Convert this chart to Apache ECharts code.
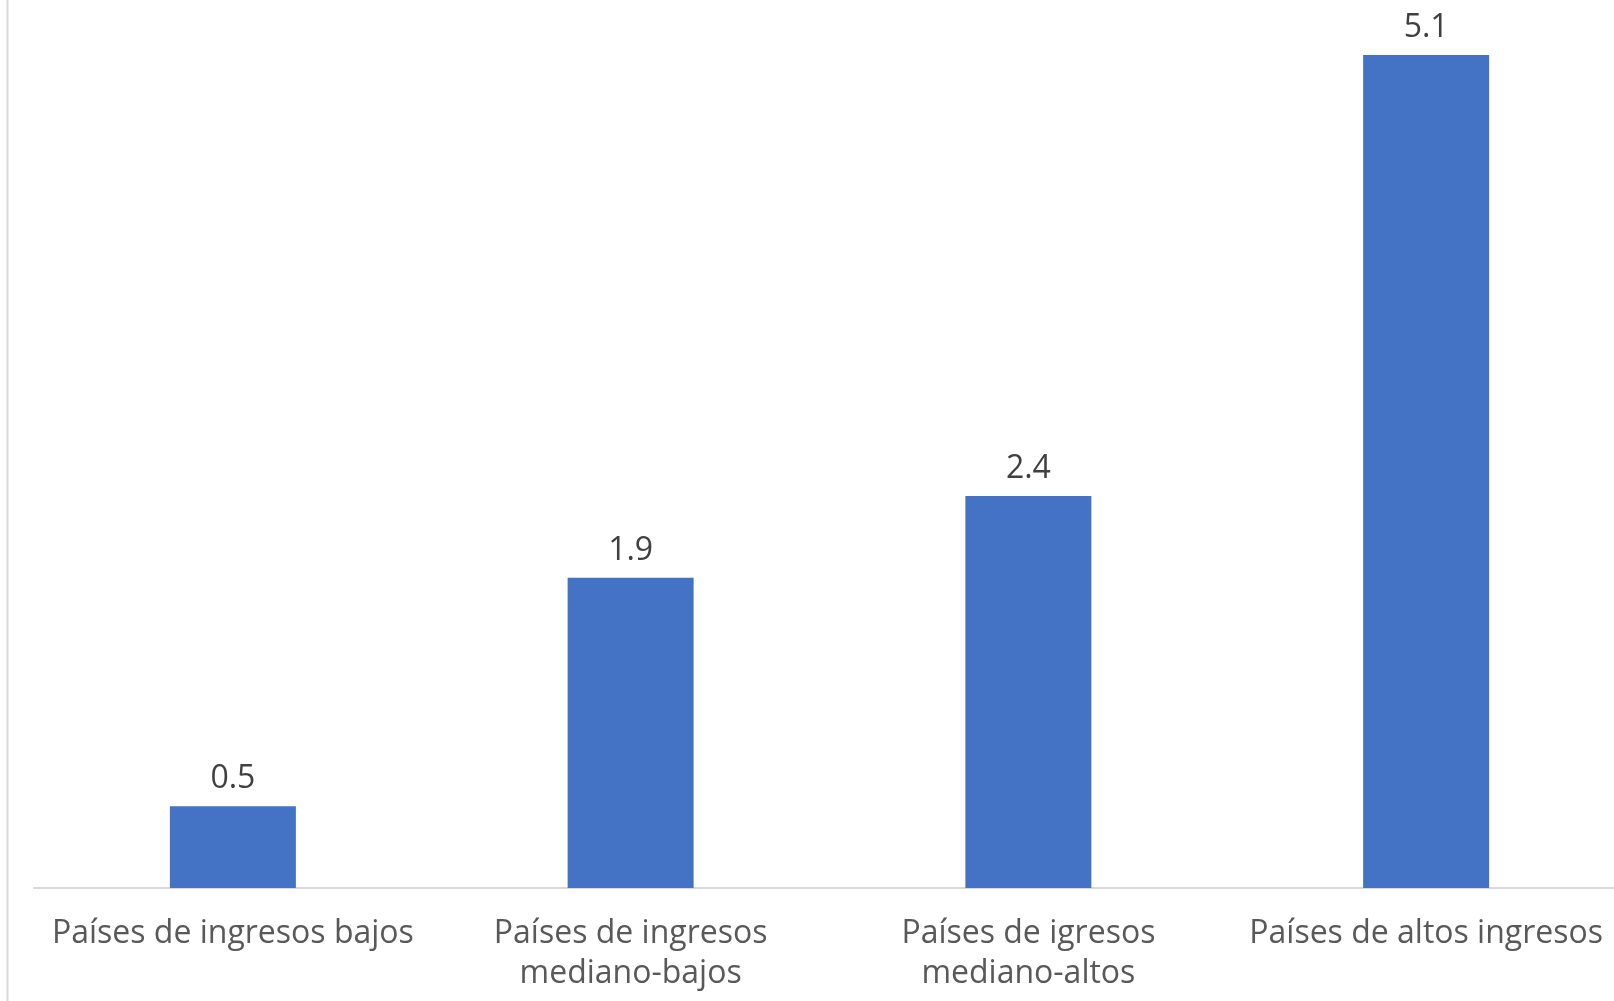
<!DOCTYPE html>
<html>
<head>
<meta charset="utf-8">
<script src="https://cdn.jsdelivr.net/npm/echarts@6/dist/echarts.min.js"></script>
<style>html,body{margin:0;padding:0;background:#fff;}#c{width:1614px;height:1001px;}</style>
</head>
<body>
<div id="c"></div>
<script>
const categories = ['Países de ingresos bajos', 'Países de ingresos\nmediano-bajos', 'Países de igresos\nmediano-altos', 'Países de altos ingresos'];
const values = [0.5, 1.9, 2.4, 5.1];

const chart = echarts.init(document.getElementById('c'));
chart.setOption({
  animation: false,
  backgroundColor: '#ffffff',
  graphic: [{ type: 'rect', shape: { x: 6.5, y: 0, width: 2, height: 1001 }, style: { fill: '#d9d9d9' }, silent: true }],
  grid: { left: 34, width: 1591, top: 6, bottom: 113, containLabel: false, outerBoundsMode: 'none' },
  xAxis: {
    type: 'category',
    data: categories,
    axisLine: { lineStyle: { color: '#d9d9d9', width: 2 } },
    axisTick: { show: false },
    axisLabel: { color: '#595959', fontFamily: 'Open Sans', fontSize: 32, lineHeight: 40, margin: 26, interval: 0 }
  },
  yAxis: { type: 'value', min: 0, max: 5.4, show: false, splitLine: { show: false } },
  series: [{
    type: 'bar',
    data: values,
    barWidth: 126,
    itemStyle: { color: '#4472C4' },
    label: { show: true, position: 'top', distance: 11, color: '#404040', fontFamily: 'Open Sans', fontSize: 32, formatter: p => p.value.toFixed(1) }
  }]
});
</script>
</body>
</html>
